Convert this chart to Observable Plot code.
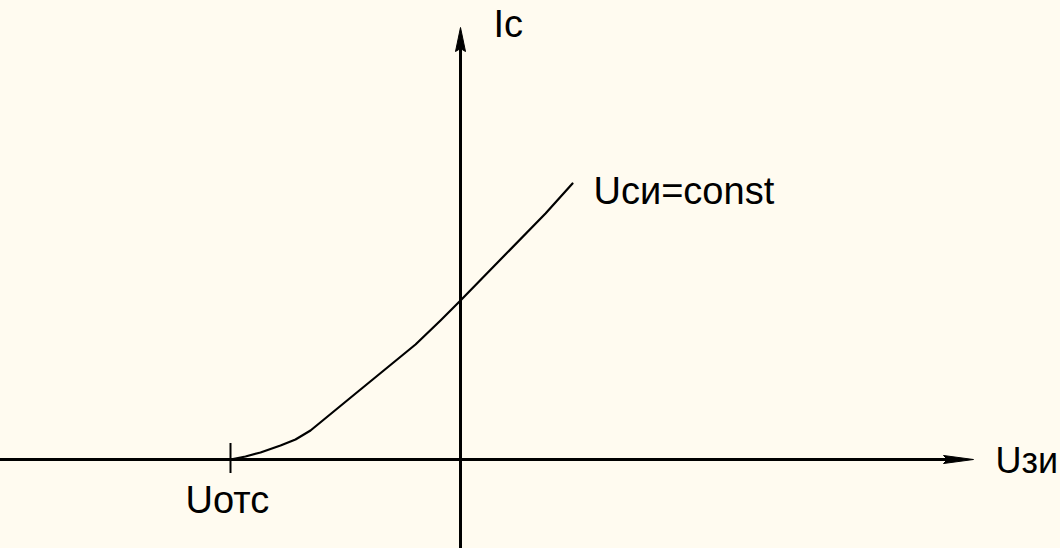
<!DOCTYPE html>
<html>
<head>
<meta charset="utf-8">
<script src="https://cdn.jsdelivr.net/npm/d3@7"></script>
<script src="https://cdn.jsdelivr.net/npm/@observablehq/plot@0.6"></script>
<style>
  html, body { margin: 0; padding: 0; background: #fffbf0; }
  #chart { width: 1060px; height: 548px; overflow: hidden; }
</style>
</head>
<body>
<div id="chart"></div>
<script>
// Transfer characteristic Ic(Uзи) at Uси = const (arbitrary units)
const uzi = [-23, -21.5, -20, -18, -16.5, -15, -10, -4.5, -2, 0, 4, 8.5, 11.2];
const ic  = [0, 0.3, 0.7, 1.4, 2.0, 2.9, 7.0, 11.5, 13.9, 15.9, 20, 24.6, 27.6];

// Axis extents
const xAxisRange = [-46, 51.3];
const yAxisRange = [-8.9, 43.2];

// Cut-off voltage tick
const uCutoff = [-23];
const tickSpan = [-1.4, 1.6];

// Labels
const labelText = ["Ic", "Uси=const", "Uотс"];
const labelX = [3.3, 13.3, -27.5];
const labelY = [42.3, 25.6, -5.3];
const axisLabelText = ["Uзи"];
const axisLabelX = [53.5];
const axisLabelY = [-1.3];

const curve = uzi.map((x, i) => ({x, y: ic[i]}));
const labels = labelText.map((t, i) => ({t, x: labelX[i], y: labelY[i]}));
const axisLabels = axisLabelText.map((t, i) => ({t, x: axisLabelX[i], y: axisLabelY[i]}));

const arrowV = {draw(ctx) { ctx.moveTo(0, 0); ctx.lineTo(5, 24); ctx.lineTo(0, 21); ctx.lineTo(-5, 24); ctx.closePath(); }};
const arrowH = {draw(ctx) { ctx.moveTo(0, 0); ctx.lineTo(4, 30); ctx.lineTo(0, 26); ctx.lineTo(-4, 30); ctx.closePath(); }};

const chart = Plot.plot({
  width: 1060,
  height: 548,
  margin: 0,
  style: {background: "#fffbf0", fontFamily: "'Liberation Sans', Arial, sans-serif"},
  x: {domain: [-46, 60], axis: null},
  y: {domain: [-8.9, 45.9], axis: null},
  marks: [
    Plot.ruleY([0], {x1: xAxisRange[0], x2: xAxisRange[1] - 2, stroke: "black", strokeWidth: 3}),
    Plot.ruleX([0], {y1: yAxisRange[0], y2: yAxisRange[1] - 2, stroke: "black", strokeWidth: 3}),
    Plot.dot([{x: 0, y: yAxisRange[1]}], {x: "x", y: "y", symbol: arrowV, fill: "black", stroke: "black", strokeWidth: 1}),
    Plot.dot([{x: xAxisRange[1], y: 0}], {x: "x", y: "y", symbol: arrowH, rotate: 90, fill: "black", stroke: "black", strokeWidth: 1}),
    Plot.ruleX(uCutoff, {y1: tickSpan[0], y2: tickSpan[1], stroke: "black", strokeWidth: 2}),
    Plot.line(curve, {x: "x", y: "y", stroke: "black", strokeWidth: 2.2}),
    Plot.text(labels, {x: "x", y: "y", text: "t", textAnchor: "start", lineAnchor: "bottom", fontSize: 38, fill: "black"}),
    Plot.text(axisLabels, {x: "x", y: "y", text: "t", textAnchor: "start", lineAnchor: "bottom", fontSize: 36, fill: "black"})
  ]
});
document.getElementById("chart").append(chart);
</script>
</body>
</html>
